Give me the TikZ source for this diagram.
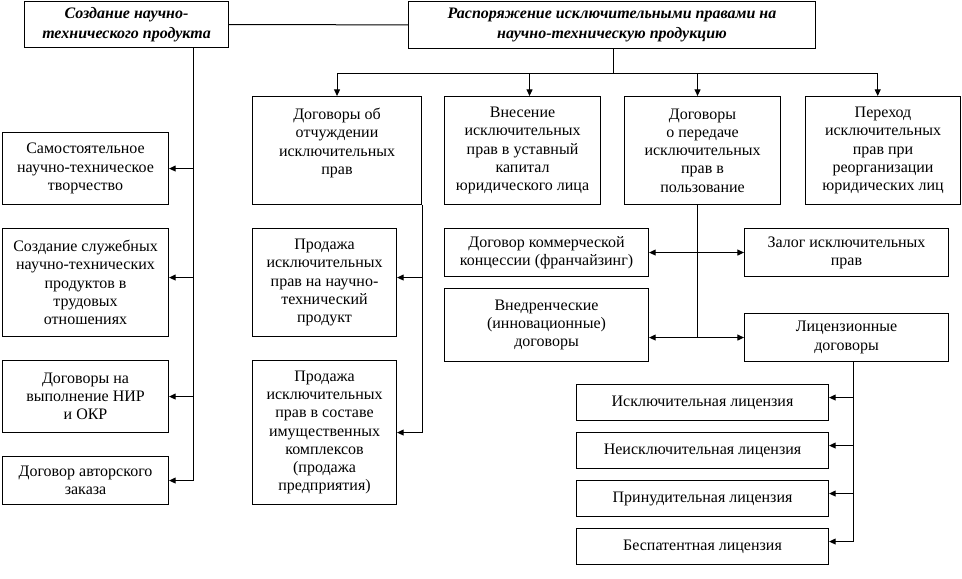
\documentclass[tikz,border=0pt]{standalone}
\usepackage{fontspec}
\setmainfont{Liberation Serif}
\usetikzlibrary{arrows.meta}

\tikzset{
  box/.style={draw, line width=0.8pt, anchor=north west, align=center, inner sep=1pt,
    font=\fontsize{12}{13.7}\selectfont},
  headbox/.style={box, font=\fontsize{12}{14.8}\selectfont\bfseries\itshape},
  sz/.style 2 args={minimum width=#1*0.75pt, minimum height=#2*0.75pt},
  link/.style={line width=0.75pt},
  arr/.style={link, -{Triangle[length=5pt,width=4.5pt]}},
  arrtwo/.style={link, {Triangle[length=5pt,width=4.5pt]}-{Triangle[length=5pt,width=4.5pt]}}
}

\begin{document}
\begin{tikzpicture}[x=0.75pt, y=-0.75pt]
  \useasboundingbox (0,0) rectangle (962,578);

  % top level
  \node[headbox, sz={204}{46}] (create) at (24,1) {Создание научно-\\технического продукта};
  \node[headbox, sz={407}{47}] (dispose) at (408,1) {Распоряжение исключительными правами на\\научно-техническую продукцию};

  % second row
  \node[box, sz={169}{108}] (alien) at (252,96) {Договоры об\\отчуждении\\исключительных\\прав\\\mbox{}};
  \node[box, sz={156}{108}] (capital) at (444,96) {Внесение\\исключительных\\прав в уставный\\капитал\\юридического лица};
  \node[box, sz={156}{108}] (use) at (624,96) {Договоры\\о передаче\\исключительных\\прав в\\пользование};
  \node[box, sz={155}{108}] (reorg) at (805,96) {Переход\\исключительных\\прав при\\реорганизации\\юридических лиц};

  % creation branch
  \node[box, sz={166}{72}] (self) at (2,132) {Самостоятельное\\научно-техническое\\творчество};
  \node[box, sz={166}{108}] (service) at (2,228) {Создание служебных\\научно-технических\\продуктов в\\трудовых\\отношениях};
  \node[box, sz={166}{72}] (rnd) at (2,360) {Договоры на\\выполнение НИР\\и ОКР};
  \node[box, sz={166}{48}] (author) at (2,456) {Договор авторского\\заказа};

  % alienation branch
  \node[box, sz={144}{108}] (saleprod) at (252,228) {Продажа\\исключительных\\прав на научно-\\технический\\продукт};
  \node[box, sz={144}{144}] (salecomp) at (252,360) {Продажа\\исключительных\\прав в составе\\имущественных\\комплексов\\(продажа\\предприятия)};

  % use branch
  \node[box, sz={204}{48}] (franch) at (444,228) {Договор коммерческой\\концессии (франчайзинг)};
  \node[box, sz={204}{48}] (pledge) at (744,228) {Залог исключительных\\прав};
  \node[box, sz={204}{73}] (innov) at (444,288) {Внедренческие\\(инновационные)\\договоры};
  \node[box, sz={204}{48}] (licence) at (744,313) {Лицензионные\\договоры};

  % licences
  \node[box, sz={252}{36}] (lexcl) at (576,384) {Исключительная лицензия};
  \node[box, sz={252}{36}] (lnonex) at (576,432) {Неисключительная лицензия};
  \node[box, sz={252}{36}] (lforce) at (576,480) {Принудительная лицензия};
  \node[box, sz={252}{36}] (lnopat) at (576,528) {Беспатентная лицензия};

  % connectors
  \draw[link] (create) -- (dispose);
  \coordinate (hub) at (613,73);
  \draw[link] (dispose.south -| hub) -- (hub);
  \draw[arr] (hub) -| (alien.north);
  \draw[arr] (hub) -| ([xshift=-4pt]reorg.north);
  \coordinate (capin) at ([xshift=5.25pt]capital.north);
  \coordinate (usein) at ([xshift=-3.75pt]use.north);
  \draw[arr] (capin |- hub) -- (capin);
  \draw[arr] (usein |- hub) -- (usein);

  \coordinate (vL) at (193,0);
  \coordinate (servin) at ([yshift=3.75pt]service.east);
  \draw[arr] (create.south -| vL) |- (author.east);
  \draw[arr] (vL |- self.east) -- (self.east);
  \draw[arr] (vL |- servin) -- (servin);
  \draw[arr] (vL |- rnd.east) -- (rnd.east);

  \coordinate (prodin) at ([yshift=3.75pt]saleprod.east);
  \draw[arr] (alien.south east) |- (salecomp.east);
  \draw[arr] (alien.south east |- prodin) -- (prodin);

  \coordinate (vR) at ([xshift=-3.75pt]use.south);
  \draw[link] (vR) -- (vR |- licence.west);
  \draw[arrtwo] (franch.east) -- (pledge.west);
  \draw[arrtwo] (innov.east |- licence.west) -- (licence.west);

  \coordinate (vK) at ([xshift=5.25pt]licence.south);
  \foreach \lic in {lexcl, lnonex, lforce, lnopat}
    \coordinate (in-\lic) at ([yshift=3.75pt]\lic.east);
  \draw[arr] (vK) |- (in-lnopat);
  \foreach \lic in {lexcl, lnonex, lforce}
    \draw[arr] (vK |- in-\lic) -- (in-\lic);
\end{tikzpicture}
\end{document}
